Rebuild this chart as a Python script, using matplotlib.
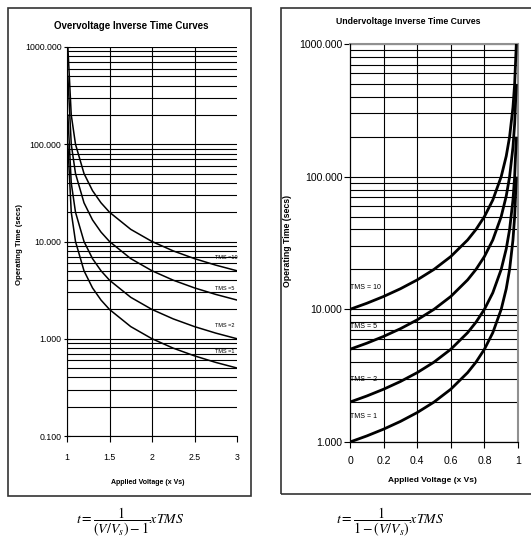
import matplotlib.pyplot as plt
from matplotlib.patches import Rectangle
from matplotlib.ticker import LogLocator, FormatStrFormatter, NullFormatter

plt.rcParams['font.family'] = ['Liberation Sans', 'DejaVu Sans']
plt.rcParams['mathtext.fontset'] = 'stix'

# overvoltage curves (x Vs, secs)
over_v = [1.01, 1.05, 1.1, 1.2, 1.3, 1.4, 1.5, 1.75, 2.0, 2.25, 2.5, 2.75, 3.0]
over_tms10 = [1000, 200, 100, 50, 33.33, 25, 20, 13.33, 10, 8, 6.667, 5.714, 5]
over_tms5 = [500, 100, 50, 25, 16.67, 12.5, 10, 6.667, 5, 4, 3.333, 2.857, 2.5]
over_tms2 = [200, 40, 20, 10, 6.667, 5, 4, 2.667, 2, 1.6, 1.333, 1.143, 1]
over_tms1 = [100, 20, 10, 5, 3.333, 2.5, 2, 1.333, 1, 0.8, 0.667, 0.571, 0.5]
over_xticks = [1, 1.5, 2, 2.5, 3]
over_xlabels = ['1', '1.5', '2', '2.5', '3']

# undervoltage curves
under_v = [0, 0.1, 0.2, 0.3, 0.4, 0.5, 0.6, 0.7, 0.75, 0.8, 0.85, 0.9, 0.93, 0.95, 0.97, 0.98, 0.99]
under_tms10 = [10, 11.11, 12.5, 14.29, 16.67, 20, 25, 33.33, 40, 50, 66.67, 100, 142.9, 200, 333.3, 500, 1000]
under_tms5 = [5, 5.556, 6.25, 7.143, 8.333, 10, 12.5, 16.67, 20, 25, 33.33, 50, 71.43, 100, 166.7, 250, 500]
under_tms2 = [2, 2.222, 2.5, 2.857, 3.333, 4, 5, 6.667, 8, 10, 13.33, 20, 28.57, 40, 66.67, 100, 200]
under_tms1 = [1, 1.111, 1.25, 1.429, 1.667, 2, 2.5, 3.333, 4, 5, 6.667, 10, 14.29, 20, 33.33, 50, 100]
under_xticks = [0, 0.2, 0.4, 0.6, 0.8, 1]
under_xlabels = ['0', '0.2', '0.4', '0.6', '0.8', '1']

W, H = 531, 553
fig = plt.figure(figsize=(W / 100, H / 100), dpi=100)


def px(x0, y0, x1, y1):
    # pixel box -> figure fraction [left, bottom, width, height]
    return [x0 / W, 1 - y1 / H, (x1 - x0) / W, (y1 - y0) / H]


# outer chart frames
for box in [px(7.5, 7.5, 251, 496), px(281, 7.5, 545, 494)]:
    fig.patches.append(Rectangle((box[0], box[1]), box[2], box[3], transform=fig.transFigure,
                                 fill=False, ec='#333333', lw=1.2, clip_on=False))

# ---- overvoltage ----
ax1 = fig.add_axes(px(67, 47, 237, 436))
for t in [over_tms10, over_tms5, over_tms2, over_tms1]:
    ax1.plot(over_v, t, color='black', lw=1.1, zorder=3)
ax1.set_yscale('log')
ax1.set_xlim(1, 3)
ax1.set_ylim(0.1, 1000)
ax1.yaxis.set_major_locator(LogLocator(base=10))
ax1.yaxis.set_minor_locator(LogLocator(base=10, subs=range(2, 10)))
ax1.yaxis.set_major_formatter(FormatStrFormatter('%.3f'))
ax1.yaxis.set_minor_formatter(NullFormatter())
ax1.set_xticks(over_xticks)
ax1.set_xticklabels(over_xlabels)
ax1.grid(which='both', axis='y', color='black', lw=0.8)
ax1.grid(which='major', axis='x', color='black', lw=0.8)
ax1.get_xgridlines()[-1].set_visible(False)
ax1.spines['top'].set_visible(False)
ax1.spines['right'].set_visible(False)
ax1.tick_params(axis='y', which='major', direction='inout', length=5, width=0.8, labelsize=6.3, pad=1.5)
ax1.tick_params(axis='y', which='minor', length=0)
ax1.tick_params(axis='x', direction='out', length=4, width=0.8, labelsize=6.3, pad=8)
for s in ['left', 'bottom']:
    ax1.spines[s].set_linewidth(0.8)
for lab, yf in [('TMS =10', 0.460), ('TMS =5', 0.378), ('TMS =2', 0.283), ('TMS =1', 0.216)]:
    ax1.text(0.87, yf, lab, transform=ax1.transAxes, fontsize=4, ha='left', va='center', zorder=4)

fig.text(131 / W, 1 - 26 / H, 'Overvoltage Inverse Time Curves', fontsize=7, fontweight='bold',
         ha='center', va='center')
fig.text(20 / W, 1 - 245 / H, 'Operating Time (secs)', fontsize=5.6, fontweight='bold',
         rotation=90, ha='center', va='center')
fig.text(148 / W, 1 - 482 / H, 'Applied Voltage (x Vs)', fontsize=5, fontweight='bold',
         ha='center', va='center')

# ---- undervoltage ----
ax2 = fig.add_axes(px(350, 44, 518, 442))
for t in [under_tms10, under_tms5, under_tms2, under_tms1]:
    ax2.plot(under_v, t, color='black', lw=2, zorder=3, solid_capstyle='butt')
ax2.set_yscale('log')
ax2.set_xlim(0, 1)
ax2.set_ylim(1, 1000)
ax2.yaxis.set_major_locator(LogLocator(base=10))
ax2.yaxis.set_minor_locator(LogLocator(base=10, subs=range(2, 10)))
ax2.yaxis.set_major_formatter(FormatStrFormatter('%.3f'))
ax2.yaxis.set_minor_formatter(NullFormatter())
ax2.set_xticks(under_xticks)
ax2.set_xticklabels(under_xlabels)
ax2.grid(which='both', axis='y', color='black', lw=0.8)
ax2.grid(which='major', axis='x', color='black', lw=0.8)
ax2.get_xgridlines()[-1].set_visible(False)
ax2.get_xgridlines()[0].set_visible(False)
for s in ['top', 'right']:
    ax2.spines[s].set_color('#909090')
    ax2.spines[s].set_linewidth(1.5)
for s in ['left', 'bottom']:
    ax2.spines[s].set_linewidth(0.9)
    ax2.spines[s].set_zorder(5)
ax2.tick_params(axis='y', which='major', direction='out', length=4, width=0.8, labelsize=7.6, pad=1.5)
ax2.tick_params(axis='y', which='minor', length=0)
ax2.tick_params(axis='x', direction='out', length=4, width=0.8, labelsize=7.6, pad=6)
for lab, yf in [('TMS = 10', 0.387), ('TMS = 5', 0.291), ('TMS = 2', 0.156), ('TMS = 1', 0.065)]:
    ax2.text(0.0, yf, lab, transform=ax2.transAxes, fontsize=5, ha='left', va='center', zorder=4)

fig.text(408 / W, 1 - 21 / H, 'Undervoltage Inverse Time Curves', fontsize=6.3, fontweight='bold',
         ha='center', va='center')
fig.text(288 / W, 1 - 241 / H, 'Operating Time (secs)', fontsize=6.3, fontweight='bold',
         rotation=90, ha='center', va='center')
fig.text(432 / W, 1 - 481 / H, 'Applied Voltage (x Vs)', fontsize=6, fontweight='bold',
         ha='center', va='center')

# formulas
fig.text(130 / W, 1 - 522 / H, r'$t=\dfrac{1}{\left(V/V_s\right)-1}xTMS$', fontsize=10,
         ha='center', va='center')
fig.text(390 / W, 1 - 522 / H, r'$t=\dfrac{1}{1-\left(V/V_s\right)}xTMS$', fontsize=10,
         ha='center', va='center')

fig.savefig('out.png', dpi=100)
